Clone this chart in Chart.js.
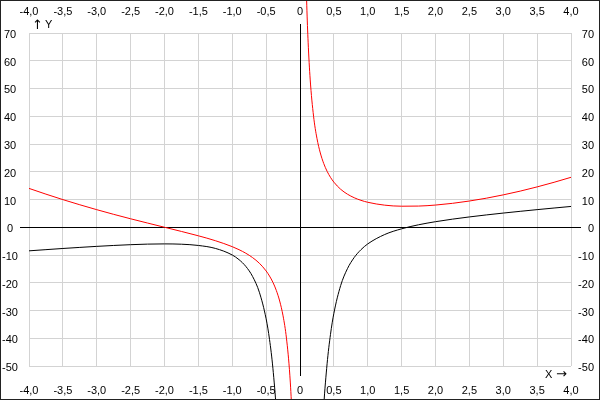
<!DOCTYPE html>
<html>
<head>
<meta charset="utf-8">
<script src="https://cdn.jsdelivr.net/npm/chart.js@4/dist/chart.umd.min.js"></script>
<style>
  body { margin: 0; background: #fff; }
  #wrap { width: 600px; height: 400px; position: relative; }
</style>
</head>
<body>
<div id="wrap"><canvas id="plot"></canvas></div>
<script>
// x positions of the two branches (left and right of the pole at x = 0)
const xLeft  = [-4, -3.75, -3.5, -3.25, -3, -2.75, -2.5, -2.25, -2, -1.75, -1.5, -1.25, -1,
                -0.9, -0.8, -0.7, -0.6, -0.5, -0.45, -0.4, -0.35, -0.3, -0.25, -0.2, -0.15, -0.12, -0.1];
const xRight = [0.08, 0.1, 0.12, 0.15, 0.2, 0.25, 0.3, 0.35, 0.4, 0.45, 0.5, 0.6, 0.7, 0.8, 0.9, 1,
                1.25, 1.5, 1.75, 2, 2.25, 2.5, 2.75, 3, 3.25, 3.5, 3.75, 4];

// red curve
const redLeft  = [14, 11.93, 9.96, 8.1, 6.33, 4.65, 3.05, 1.51, 0, -1.51, -3.08, -4.84, -7,
                  -8.08, -9.36, -10.94, -12.97, -15.75, -17.58, -19.84, -22.74, -26.58, -31.94, -39.96, -53.31, -66.65, -80];
const redRight = [100, 80, 66.7, 53.4, 40.04, 32.06, 26.76, 22.98, 20.16, 17.98, 16.25, 13.69, 11.92, 10.64, 9.7, 9,
                  7.96, 7.58, 7.63, 8, 8.62, 9.45, 10.47, 11.67, 13.02, 14.54, 16.2, 18];

// black curve (null = off the picture)
const blackLeft  = [-8.5, -8.07, -7.65, -7.26, -6.89, -6.56, -6.28, -6.08, -6, -6.11, -6.56, -7.62, -10,
                    -11.68, -14.1, -17.73, -23.42, -33, -40.4, -50.8, -66, -89.5, null, null, null, null, null];
const blackRight = [null, null, null, null, null, null, -88.3, -64.6, -49.2, -38.6, -31, -21.02, -14.93, -10.9, -8.08, -6,
                    -2.62, -0.56, 0.89, 2, 2.92, 3.72, 4.44, 5.11, 5.74, 6.35, 6.93, 7.5];

// tick labels
const xTickValues = [-4, -3.5, -3, -2.5, -2, -1.5, -1, -0.5, 0, 0.5, 1, 1.5, 2, 2.5, 3, 3.5, 4];
const xTickLabels = ['-4,0', '-3,5', '-3,0', '-2,5', '-2,0', '-1,5', '-1,0', '-0,5', '0',
                     '0,5', '1,0', '1,5', '2,0', '2,5', '3,0', '3,5', '4,0'];
const yTickValues = [70, 60, 50, 40, 30, 20, 10, 0, -10, -20, -30, -40, -50];
const yTickLabels = ['70', '60', '50', '40', '30', '20', '10', '0', '-10', '-20', '-30', '-40', '-50'];

function branches(ys1, ys2) {
    const pts = xLeft.map((x, i) => ({x: x, y: ys1[i]}));
    pts.push({x: 0, y: null});                       // break at the pole
    xRight.forEach((x, i) => pts.push({x: x, y: ys2[i]}));
    return pts;
}

const FONT = '11px "Liberation Sans", "DejaVu Sans", sans-serif';
const ARROW_FONT = '13px "DejaVu Sans", sans-serif';

// axis lines, tick labels, axis names and frame
const decor = {
    id: 'decor',
    beforeDatasetsDraw(chart) {
        const ctx = chart.ctx, xs = chart.scales.x, ys = chart.scales.y;
        const a = chart.chartArea;
        const x0 = Math.round(xs.getPixelForValue(0)) + 0.5;
        const y0 = Math.round(ys.getPixelForValue(0)) + 0.5;
        ctx.save();
        ctx.strokeStyle = '#000';
        ctx.lineWidth = 1;
        ctx.beginPath();
        ctx.moveTo(x0, a.top - 9); ctx.lineTo(x0, a.bottom + 10);   // Y axis
        ctx.moveTo(a.left - 9, y0); ctx.lineTo(a.right + 10, y0);   // X axis
        ctx.stroke();
        ctx.restore();
    },
    afterDraw(chart) {
        const ctx = chart.ctx, xs = chart.scales.x, ys = chart.scales.y;
        ctx.save();
        ctx.font = FONT;
        ctx.fillStyle = '#000';
        ctx.textBaseline = 'alphabetic';

        ctx.textAlign = 'center';
        xTickValues.forEach((v, i) => {
            const px = xs.getPixelForValue(v);
            ctx.fillText(xTickLabels[i], px, 15);      // top
            ctx.fillText(xTickLabels[i], px, 394);     // bottom
        });

        yTickValues.forEach((v, i) => {
            const py = Math.round(ys.getPixelForValue(v)) + 5;
            ctx.textAlign = 'center';
            ctx.fillText(yTickLabels[i], 10, py);
            ctx.textAlign = 'right';
            ctx.fillText(yTickLabels[i], 594, py);
        });

        // axis names with arrows
        ctx.textAlign = 'left';
        ctx.fillText('Y', 45, 28);
        ctx.fillText('X', 545, 378);
        ctx.font = ARROW_FONT;
        ctx.fillText('\u2191', 32, 29);
        ctx.fillText('\u2192', 556, 378);

        // outer frame
        ctx.strokeStyle = '#222';
        ctx.lineWidth = 1;
        ctx.strokeRect(0.5, 0.5, 599, 399);
        ctx.restore();
    }
};

new Chart(document.getElementById('plot'), {
    type: 'line',
    data: {
        datasets: [
            {
                data: branches(redLeft, redRight),
                borderColor: '#ff0000',
                borderWidth: 1,
                pointRadius: 0,
                cubicInterpolationMode: 'monotone',
                spanGaps: false,
                clip: false
            },
            {
                data: branches(blackLeft, blackRight),
                borderColor: '#000000',
                borderWidth: 1,
                pointRadius: 0,
                cubicInterpolationMode: 'monotone',
                spanGaps: false,
                clip: false
            }
        ]
    },
    options: {
        responsive: true,
        maintainAspectRatio: false,
        animation: false,
        layout: { padding: { left: 29, right: 29, top: 33, bottom: 34 } },
        scales: {
            x: {
                type: 'linear',
                min: -4, max: 4,
                ticks: { display: false, stepSize: 0.5 },
                grid: { color: '#d3d3d3', drawTicks: false },
                border: { display: false }
            },
            y: {
                min: -50, max: 70,
                ticks: { display: false, stepSize: 10 },
                grid: { color: '#d3d3d3', drawTicks: false },
                border: { display: false }
            }
        },
        plugins: {
            legend: { display: false },
            tooltip: { enabled: false }
        }
    },
    plugins: [decor]
});
</script>
</body>
</html>
